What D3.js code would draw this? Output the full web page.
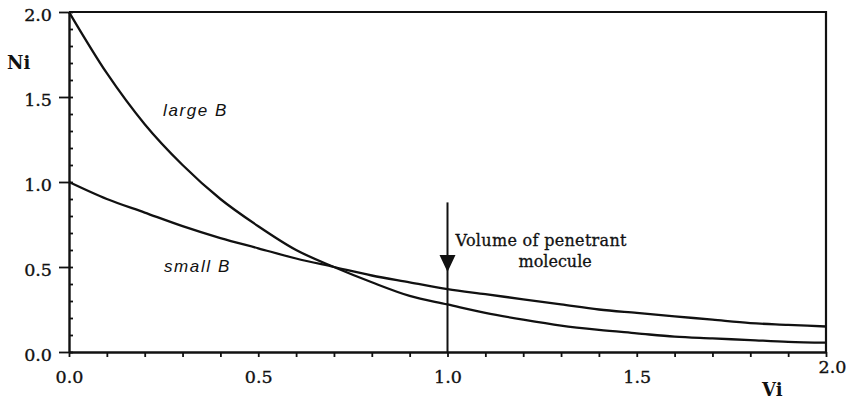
<!DOCTYPE html>
<html>
<head>
<meta charset="utf-8">
<script src="https://cdn.jsdelivr.net/npm/d3@7"></script>
<style>
  body { margin: 0; background: #fff; }
  svg { display: block; }
  .tick-label { font-family: "DejaVu Serif", serif; font-size: 17.5px; fill: #111; stroke: #111; stroke-width: 0.35px; }
  .axis-title { font-family: "DejaVu Serif", serif; font-size: 18px; font-weight: bold; fill: #111; }
  .curve-label { font-family: "Liberation Sans", Arial, sans-serif; font-size: 17px; font-style: italic; letter-spacing: 1.6px; fill: #111; }
  .note { font-family: "DejaVu Serif", serif; font-size: 16px; fill: #111; stroke: #111; stroke-width: 0.3px; }
</style>
</head>
<body>
<svg id="chart" width="846" height="400"></svg>
<script>
const WIDTH = 846;
const HEIGHT = 400;

const vi = [0.0, 0.1, 0.2, 0.3, 0.4, 0.5, 0.6, 0.7, 0.8, 0.9, 1.0,
            1.1, 1.2, 1.3, 1.4, 1.5, 1.6, 1.7, 1.8, 1.9, 2.0];
const largeB = [2.0, 1.64, 1.34, 1.10, 0.90, 0.74, 0.60, 0.50, 0.41, 0.33, 0.28,
                0.23, 0.19, 0.155, 0.13, 0.11, 0.09, 0.08, 0.07, 0.06, 0.055];
const smallB = [1.0, 0.90, 0.82, 0.74, 0.67, 0.61, 0.55, 0.50, 0.45, 0.41, 0.37,
                0.34, 0.31, 0.28, 0.25, 0.23, 0.21, 0.19, 0.17, 0.16, 0.15];

const majorTicks = [0.0, 0.5, 1.0, 1.5, 2.0];
const minorTicks = d3.range(0, 21).map(i => i / 10);
const tickLabels = ["0.0", "0.5", "1.0", "1.5", "2.0"];

// annotation: arrow at Vi = 1.0
const arrowVi = 1.0;
const arrowTop = 0.88;
const arrowTip = 0.47;
const noteLines = ["Volume of penetrant", "molecule"];

const margin = { top: 12, right: 20, bottom: 48, left: 69 };
const svg = d3.select("#chart");

const x = d3.scaleLinear().domain([0, 2]).range([margin.left, WIDTH - margin.right]);
const y = d3.scaleLinear().domain([0, 2]).range([HEIGHT - margin.bottom, margin.top]);

const x0 = x(0), x1 = x(2), y0 = y(0), y1 = y(2);

// frame: top and right sides
svg.append("path")
  .attr("d", `M${x0},${y1}H${x1}V${y0}`)
  .attr("fill", "none")
  .attr("stroke", "#111")
  .attr("stroke-width", 2.2);

// y axis: minor ticks inward, major ticks outward
svg.append("g")
  .attr("transform", `translate(${x0},0)`)
  .call(d3.axisLeft(y).tickValues(minorTicks).tickSize(-4).tickFormat(""))
  .call(g => g.select(".domain").remove())
  .selectAll("line").attr("stroke", "#111").attr("stroke-width", 1.8);

svg.append("g")
  .attr("transform", `translate(${x0},0)`)
  .call(d3.axisLeft(y).tickValues(majorTicks).tickSize(10).tickSizeOuter(0)
    .tickFormat((d, i) => tickLabels[i]))
  .call(g => g.select(".domain").attr("stroke", "#111").attr("stroke-width", 2.4))
  .call(g => g.selectAll("line").attr("stroke", "#111").attr("stroke-width", 1.8))
  .call(g => g.selectAll("text")
    .attr("class", "tick-label")
    .attr("x", -17)
    .attr("dy", "0.75em")
    .attr("y", -5));

// x axis: ticks outward (down)
svg.append("g")
  .attr("transform", `translate(0,${y0})`)
  .call(d3.axisBottom(x).tickValues(minorTicks).tickSize(5).tickFormat(""))
  .call(g => g.select(".domain").remove())
  .selectAll("line").attr("stroke", "#111").attr("stroke-width", 1.8);

svg.append("g")
  .attr("transform", `translate(0,${y0})`)
  .call(d3.axisBottom(x).tickValues(majorTicks).tickSize(0).tickSizeOuter(0)
    .tickFormat((d, i) => tickLabels[i]))
  .call(g => g.select(".domain").attr("stroke", "#111").attr("stroke-width", 2.4))
  .call(g => g.selectAll("text")
    .attr("class", "tick-label")
    .attr("y", 25)
    .attr("dy", "0.35em"))
  .call(g => g.selectAll(".tick").filter(d => d === 2)
    .select("text").attr("dx", 6).attr("y", 15));

// axis titles
svg.append("text").attr("class", "axis-title")
  .attr("x", 7).attr("y", 69).text("Ni");
svg.append("text").attr("class", "axis-title")
  .attr("x", 762).attr("y", 396).text("Vi");

// curves
const line = d3.line()
  .x(d => x(d[0]))
  .y(d => y(d[1]))
  .curve(d3.curveMonotoneX);

[largeB, smallB].forEach(series => {
  svg.append("path")
    .datum(vi.map((v, i) => [v, series[i]]))
    .attr("d", line)
    .attr("fill", "none")
    .attr("stroke", "#111")
    .attr("stroke-width", 2.3);
});

svg.append("text").attr("class", "curve-label")
  .attr("x", 163).attr("y", 116).text("large B");
svg.append("text").attr("class", "curve-label")
  .attr("x", 164).attr("y", 272).text("small B");

// arrow marking the penetrant volume
const ax = x(arrowVi);
svg.append("line")
  .attr("x1", ax).attr("x2", ax)
  .attr("y1", y(arrowTop)).attr("y2", y0)
  .attr("stroke", "#111")
  .attr("stroke-width", 2);

const tip = y(arrowTip);
svg.append("path")
  .attr("d", `M${ax - 8},${tip - 17}L${ax + 8},${tip - 17}L${ax},${tip}Z`)
  .attr("fill", "#111");

svg.append("text").attr("class", "note")
  .attr("x", ax + 8).attr("y", 246)
  .attr("textLength", 171).attr("lengthAdjust", "spacing")
  .text(noteLines[0]);
svg.append("text").attr("class", "note")
  .attr("x", ax + 71).attr("y", 267)
  .text(noteLines[1]);
</script>
</body>
</html>
